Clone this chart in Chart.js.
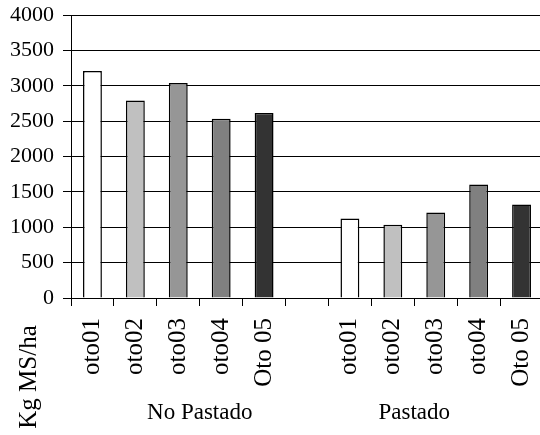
<!DOCTYPE html>
<html>
<head>
<meta charset="utf-8">
<script src="https://cdn.jsdelivr.net/npm/chart.js@4"></script>
<style>
  html, body { margin: 0; padding: 0; background: #fff; overflow: hidden; }
  #wrap { width: 546px; height: 435px; }
</style>
</head>
<body>
<div id="wrap"><canvas id="forageChart"></canvas></div>
<script>
// ---------- DATA ----------
const seasons = ["oto01", "oto02", "oto03", "oto04", "Oto 05"];
const groups = ["No Pastado", "Pastado"];
const noPastado = [3210, 2790, 3040, 2535, 2615];
const pastado = [1125, 1035, 1210, 1605, 1320];
const seasonColors = ["#ffffff", "#c0c0c0", "#969696", "#808080", "#333333"];
const yTicks = [0, 500, 1000, 1500, 2000, 2500, 3000, 3500, 4000];

// one empty slot between the two groups
const labels = [...seasons, "", ...seasons];
const values = [...noPastado, null, ...pastado];
const colors = [...seasonColors, "#ffffff", ...seasonColors];

const FONT = "'Liberation Serif', 'Times New Roman', serif";

// ---------- EXTRA TEXT (axis title + group names) ----------
const extraText = {
  id: "extraText",
  afterDraw(chart) {
    const { ctx, scales } = chart;
    ctx.save();
    ctx.fillStyle = "#000";
    ctx.font = "23px " + FONT;
    ctx.textAlign = "center";
    ctx.textBaseline = "middle";

    // group names sit under the middle of each group of five
    ctx.fillText(groups[0], scales.x.getPixelForValue(2.5), 413);
    ctx.fillText(groups[1], scales.x.getPixelForValue(7.5), 413);

    // y title down in the bottom-left corner
    ctx.font = "25px " + FONT;
    ctx.translate(29, 377);
    ctx.rotate(-Math.PI / 2);
    ctx.fillText("Kg MS/ha", 0, 0);
    ctx.restore();
  },
};

const ctx = document.getElementById("forageChart").getContext("2d");
new Chart(ctx, {
  type: "bar",
  data: {
    labels,
    datasets: [
      {
        data: values,
        backgroundColor: colors,
        borderColor: "#000",
        borderWidth: 1.5,
        categoryPercentage: 1,
        barPercentage: 0.44,
      },
    ],
  },
  options: {
    responsive: true,
    maintainAspectRatio: false,
    animation: false,
    layout: { padding: { top: 15, right: 3, left: 0, bottom: 0 } },
    plugins: {
      legend: { display: false },
      tooltip: { enabled: false },
    },
    scales: {
      x: {
        afterFit: (s) => {
          s.height = 137;
          s.paddingLeft = 0;
          s.paddingRight = 0;
        },
        border: { display: true, color: "#000", width: 1 },
        grid: { offset: true, drawOnChartArea: false, drawTicks: true, tickLength: 8, color: "#000" },
        ticks: {
          color: "#000",
          font: { family: FONT, size: 25 },
          minRotation: 90,
          maxRotation: 90,
          autoSkip: false,
          padding: 12,
        },
      },
      y: {
        min: 0,
        max: 4000,
        afterFit: (s) => {
          s.width = 71;
          s.paddingTop = 0;
          s.paddingBottom = 0;
        },
        afterBuildTicks: (s) => { s.ticks = yTicks.map((v) => ({ value: v })); },
        border: { display: true, color: "#000", width: 1 },
        grid: { color: "#000", lineWidth: 1, drawTicks: true, tickLength: 8 },
        ticks: {
          color: "#000",
          font: { family: FONT, size: 22 },
          padding: 9,
          callback: (v) => String(v),
        },
      },
    },
  },
  plugins: [extraText],
});
</script>
</body>
</html>
